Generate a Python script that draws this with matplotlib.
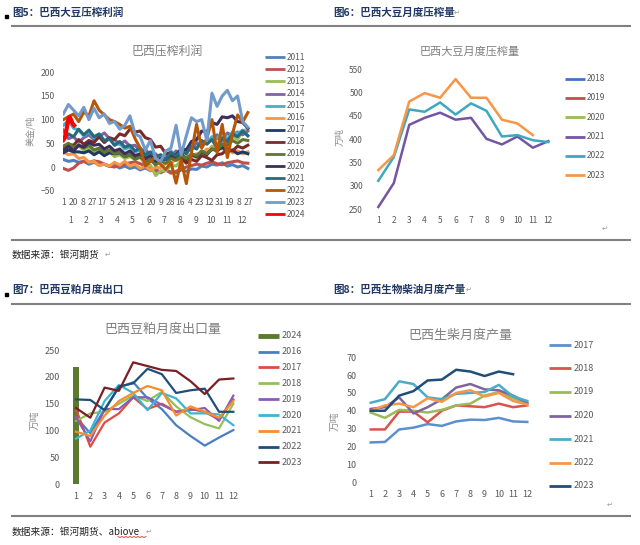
import numpy as np
import matplotlib.pyplot as plt
from matplotlib.lines import Line2D
from matplotlib.patches import Rectangle

plt.rcParams['font.family'] = ['Noto Sans CJK SC', 'DejaVu Sans']

# ---------------- data ----------------
# 图5 巴西压榨利润 (美金/吨), one value every 10 days
days = list(range(0, 361, 10))
p2011 = [16, 12, 14, 10, 12, 6, 10, 4, 6, 1, 4, -2, 2, -3, 0, -6, -2, -8, -5, -11, -7, -10, -12, -6, -9, -4, -5, 2, 0, 6, 4, 9, 2, 5, 0, 3, -3]
p2012 = [-3, -7, -2, 8, 12, 10, 13, 11, 6, 2, 0, 3, 6, 9, 11, 7, 2, -4, -8, -12, -6, -13, -9, -5, 0, 3, 6, 4, 8, 11, 7, 5, 9, 11, 13, 9, 8]
p2013 = [44, 46, 40, 44, 36, 40, 32, 36, 28, 32, 22, 26, 18, 22, 16, 20, 6, 4, -18, -8, -8, 4, 2, 14, 10, 24, 20, 34, 30, 44, 40, 54, 50, 64, 58, 76, 80]
p2014 = [78, 60, 64, 52, 62, 68, 58, 64, 72, 60, 58, 48, 55, 44, 46, 34, 38, 24, 28, 16, 26, 22, 34, 26, 38, 36, 52, 42, 58, 56, 68, 55, 72, 66, 74, 68, 76]
p2015 = [88, 98, 82, 78, 66, 75, 62, 64, 52, 60, 46, 50, 38, 42, 32, 36, 22, 26, 12, 24, 20, 34, 24, 38, 28, 44, 40, 54, 50, 64, 60, 74, 58, 74, 70, 78, 66]
p2016 = [32, 26, 28, 18, 20, 10, 12, 3, 6, 2, 10, 4, 12, 2, 6, -3, 2, -7, 0, -2, 8, 6, 18, 10, 24, 20, 28, 26, 38, 36, 48, 38, 42, 30, 34, 28, 32]
p2017 = [30, 36, 32, 32, 30, 34, 26, 32, 24, 30, 28, 30, 22, 26, 18, 22, 12, 16, 8, 18, 16, 22, 18, 28, 16, 26, 22, 32, 26, 38, 34, 42, 32, 36, 28, 32, 28]
p2018 = [38, 48, 46, 58, 48, 56, 52, 64, 52, 62, 58, 70, 66, 80, 74, 76, 62, 58, 42, 44, 28, 30, 16, 20, 8, 16, 12, 24, 20, 14, 26, 28, 38, 34, 44, 40, 46]
p2019 = [44, 50, 42, 46, 40, 46, 36, 40, 32, 36, 28, 32, 22, 26, 16, 22, 12, 16, 4, 12, 8, 18, 14, 24, 18, 28, 24, 34, 28, 38, 36, 48, 46, 56, 50, 58, 56]
p2020 = [32, 44, 34, 46, 42, 52, 46, 48, 38, 44, 34, 38, 28, 34, 24, 28, 18, 24, 14, 18, 16, 28, 26, 38, 36, 54, 58, 76, 74, 94, 90, 106, 104, 108, 96, 94, 82]
p2021 = [58, 70, 64, 80, 68, 78, 64, 70, 56, 60, 46, 54, 42, 46, 34, 40, 26, 32, 22, 26, 16, 30, 24, 34, 28, 44, 38, 56, 48, 58, 40, 62, 54, 70, 64, 76, 66]
p2022 = [100, 106, 112, 96, 116, 108, 140, 120, 110, 100, 96, 90, 82, 86, 60, 40, 2, 12, 22, 5, -5, 10, -34, 15, -35, 30, 90, 40, 60, 100, 30, 90, 20, 70, 110, 95, 115]
p2023 = [112, 132, 120, 108, 126, 100, 124, 104, 112, 92, 96, 80, 88, 108, 70, 64, 36, 56, 18, 12, 34, 40, 88, 26, 66, 104, 96, 100, 56, 156, 128, 150, 162, 140, 150, 96, 84]
days_2024 = [0, 3, 6, 9, 12, 15, 18, 21]
p2024 = [57, 62, 78, 96, 106, 100, 92, 88]
profit_years = ['2011', '2012', '2013', '2014', '2015', '2016', '2017', '2018', '2019', '2020', '2021', '2022', '2023', '2024']
profit_colors = ['#4F81BD', '#C0504D', '#9BBB59', '#8064A2', '#4BACC6', '#F79646', '#1F3A5F',
                 '#772C2A', '#5F7530', '#3D2F5B', '#276A7C', '#B65708', '#729ACA', '#FF0000']
day_ticks = list(range(0, 362, 19))
day_labels = ['1', '20', '8', '27', '17', '5', '24', '13', '1', '20', '9', '28', '16', '4', '23', '12', '31', '19', '8', '27']
month_mid = [15, 45, 74, 105, 135, 166, 196, 227, 258, 288, 319, 349]

# 图6 巴西大豆月度压榨量 (万吨)
months = list(range(1, 13))
crush_years = ['2018', '2019', '2020', '2021', '2022', '2023']
crush_colors = ['#4472C4', '#C0504D', '#9BBB59', '#7455A3', '#3FA8C0', '#F79646']
cr2021 = [255, 306, 431, 446, 457, 442, 446, 401, 389, 406, 382, 396]
cr2022 = [311, 362, 464, 459, 479, 453, 477, 461, 406, 409, 398, 394]
cr2023 = [334, 366, 481, 499, 489, 529, 489, 489, 442, 434, 409]

# 图7 巴西豆粕月度出口量 (万吨)
meal_years = ['2024', '2016', '2017', '2018', '2019', '2020', '2021', '2022', '2023']
meal_colors = ['#5B7A2E', '#4A7EC2', '#E04B43', '#93C05A', '#8A5DB5', '#3DB4D4', '#F88C2E', '#1F4E79', '#7A1F22']
ex2024 = [219]
ex2016 = [125, 95, 140, 180, 190, 160, 140, 110, 90, 72, 87, 101]
ex2017 = [140, 70, 115, 132, 162, 140, 150, 135, 140, 135, 120, 158]
ex2018 = [118, 132, 135, 150, 165, 155, 172, 145, 125, 112, 104, 150]
ex2019 = [125, 80, 140, 140, 162, 162, 148, 135, 138, 142, 118, 165]
ex2020 = [85, 100, 155, 185, 170, 138, 170, 160, 132, 132, 130, 110]
ex2021 = [98, 90, 128, 155, 170, 183, 175, 128, 145, 135, 124, 155]
ex2022 = [158, 157, 138, 182, 188, 215, 205, 170, 175, 178, 135, 135]
ex2023 = [142, 124, 180, 174, 227, 220, 213, 211, 192, 168, 195, 197]

# 图8 巴西生柴月度产量 (万吨)
bio_years = ['2017', '2018', '2019', '2020', '2021', '2022', '2023']
bio_colors = ['#5B8FD0', '#D9534F', '#9BBB59', '#8064A2', '#4BACC6', '#F79646', '#1F4E79']
bd2017 = [22.2, 22.5, 29.5, 30.5, 32.5, 31.5, 34, 35, 34.8, 36, 34, 33.7]
bd2018 = [29.5, 29.5, 39.5, 39.5, 33.5, 40, 43, 42.5, 42, 44, 42, 43]
bd2019 = [39, 36, 40.5, 40, 39, 40.5, 43, 44, 48.5, 50.5, 47, 44]
bd2020 = [41, 42, 47.5, 38.5, 42, 46.5, 53, 55, 52, 51.5, 48.5, 44.5]
bd2021 = [44.5, 46.5, 56.5, 55, 47.5, 46.5, 49.5, 50, 50.5, 54.5, 48, 45.5]
bd2022 = [40, 43, 44, 42, 47, 45, 50, 51.5, 48, 50, 45.5, 43.5]
bd2023 = [40, 40, 48.5, 51, 57, 57.5, 63, 62, 59.5, 62, 60.5]

# ---------------- layout helpers (pixel coords) ----------------
W, H = 640, 545
fig = plt.figure(figsize=(6.4, 5.45), dpi=100)
fig.patch.set_facecolor('white')

def fx(x):
    return x / W

def fy(y):
    return 1 - y / H

def box(x0, y0, x1, y1):
    return [fx(x0), fy(y1), (x1 - x0) / W, (y1 - y0) / H]

GRAY = '#595959'
NAVY = '#1F3864'

def clean(ax, fs, ypad, xpad):
    for s in ax.spines.values():
        s.set_visible(False)
    ax.tick_params(length=0, labelsize=fs, colors=GRAY)
    ax.tick_params(axis='y', pad=ypad)
    ax.tick_params(axis='x', pad=xpad)
    ax.patch.set_alpha(0)

def legend(x0, x1, xt, ys, colors, labels, fs, lw=2.0):
    for y, c, l in zip(ys, colors, labels):
        fig.add_artist(Line2D([fx(x0), fx(x1)], [fy(y), fy(y)], color=c, lw=lw,
                              solid_capstyle='butt', transform=fig.transFigure))
        fig.text(fx(xt), fy(y), l, fontsize=fs, color=GRAY, va='center', ha='left')

def hrule(x0, x1, y):
    fig.add_artist(Line2D([fx(x0), fx(x1)], [fy(y), fy(y)], color='#808080', lw=1.5,
                          transform=fig.transFigure))

def ret(x, y, fs=5):
    fig.text(fx(x), fy(y), '↵', fontsize=fs, color='#9a9a9a', va='center', ha='left',
             family=['DejaVu Sans'])

# headers and rules
fig.add_artist(Rectangle((fx(4.5), fy(18)), 3 / W, 3 / H, color='black', transform=fig.transFigure))
fig.add_artist(Rectangle((fx(4.5), fy(296)), 3 / W, 3 / H, color='black', transform=fig.transFigure))
fig.text(fx(12), fy(12.5), '图5：巴西大豆压榨利润', fontsize=7.6, fontweight='bold', color=NAVY, va='center')
fig.text(fx(333), fy(12.5), '图6：巴西大豆月度压榨量', fontsize=7.6, fontweight='bold', color=NAVY, va='center')
ret(454, 13)
fig.text(fx(12), fy(290), '图7：巴西豆粕月度出口', fontsize=7.6, fontweight='bold', color=NAVY, va='center')
fig.text(fx(333), fy(290), '图8：巴西生物柴油月度产量', fontsize=7.6, fontweight='bold', color=NAVY, va='center')
ret(466, 290)
hrule(12, 630, 26)
hrule(12, 630, 239.5)
hrule(12, 630, 304)
hrule(12, 630, 515.5)
fig.text(fx(12), fy(255), '数据来源：银河期货', fontsize=7, color='#222222', va='center')
ret(105, 255)
fig.text(fx(12), fy(531.5), '数据来源：银河期货、abiove', fontsize=7, color='#222222', va='center')
ret(146, 531.5)
wx = np.linspace(118, 146, 15)
wy = 536.5 + np.tile([0, 1], 8)[:15]
fig.add_artist(Line2D(fx(wx), fy(wy), color='#E03030', lw=0.6, transform=fig.transFigure))
ret(602, 229)
ret(607, 505)

# ---------------- 图5 ----------------
ax1 = fig.add_axes(box(63.3, 72.3, 250.4, 190.7))
series1 = [p2011, p2012, p2013, p2014, p2015, p2016, p2017, p2018, p2019, p2020, p2021, p2022, p2023]
for vals, c in zip(series1, profit_colors[:-1]):
    ax1.plot(days, vals, color=c, lw=2.2)
ax1.plot(days_2024, p2024, color=profit_colors[-1], lw=3.0)
ax1.set_xlim(0, 365)
ax1.set_ylim(-50, 200)
ax1.set_yticks([-50, 0, 50, 100, 150, 200])
ax1.set_xticks(day_ticks)
ax1.set_xticklabels(day_labels)
clean(ax1, 6.2, 6, 5)
for m, d in zip(months, month_mid):
    ax1.text(d, -0.253, str(m), transform=ax1.get_xaxis_transform(), ha='center', va='center',
             fontsize=6.2, color=GRAY)
fig.text(fx(167), fy(51), '巴西压榨利润', fontsize=8.6, color='#7f7f7f', ha='center', va='center')
fig.text(fx(30), fy(131), '美金/吨', fontsize=6.5, color='#8c8c8c', rotation=90, ha='center', va='center')
legend(265, 285, 287, [57.3 + 12.08 * i for i in range(14)], profit_colors, profit_years, 6.0)

# ---------------- 图6 ----------------
ax2 = fig.add_axes(box(370.6, 69.3, 556.0, 209.3))
ax2.plot(months, cr2021, color=crush_colors[3], lw=1.8)
ax2.plot(months, cr2022, color=crush_colors[4], lw=1.8)
ax2.plot(months[:11], cr2023, color=crush_colors[5], lw=1.8)
ax2.set_xlim(0.5, 12.5)
ax2.set_ylim(250, 550)
ax2.set_yticks(range(250, 551, 50))
ax2.set_xticks(months)
clean(ax2, 6.0, 5.5, 4.5)
fig.text(fx(470), fy(51), '巴西大豆月度压榨量', fontsize=8.0, color='#7f7f7f', ha='center', va='center')
fig.text(fx(340), fy(137), '万吨', fontsize=6.5, color='#8c8c8c', rotation=90, ha='center', va='center')
legend(565, 585, 587, [78.7, 98.0, 117.3, 136.7, 156.0, 175.3], crush_colors, crush_years, 6.0)

# ---------------- 图7 ----------------
ax3 = fig.add_axes(box(68.85, 350.0, 240.5, 484.3))
ax3.bar([1], ex2024, width=0.4, color=meal_colors[0])
series3 = [ex2016, ex2017, ex2018, ex2019, ex2020, ex2021, ex2022, ex2023]
for vals, c in zip(series3, meal_colors[1:]):
    ax3.plot(months, vals, color=c, lw=1.6)
ax3.set_xlim(0.5, 12.5)
ax3.set_ylim(0, 250)
ax3.set_yticks(range(0, 251, 50))
ax3.set_xticks(months)
clean(ax3, 6.5, 6.5, 5.5)
fig.text(fx(163), fy(329.5), '巴西豆粕月度出口量', fontsize=9.4, color='#7f7f7f', ha='center', va='center')
fig.text(fx(35), fy(420), '万吨', fontsize=7, color='#8c8c8c', rotation=90, ha='center', va='center')
ys3 = [336.0, 351.7, 367.3, 383.3, 399.3, 415.0, 430.7, 446.7, 462.3]
legend(258, 279, 282, ys3[1:], meal_colors[1:], meal_years[1:], 6.5)
fig.add_artist(Line2D([fx(258), fx(279)], [fy(ys3[0]), fy(ys3[0])], color=meal_colors[0], lw=3.5,
                      solid_capstyle='butt', transform=fig.transFigure))
fig.text(fx(282), fy(ys3[0]), meal_years[0], fontsize=6.5, color=GRAY, va='center')

# ---------------- 图8 ----------------
ax4 = fig.add_axes(box(363.6, 357.3, 534.4, 482.0))
series4 = [bd2017, bd2018, bd2019, bd2020, bd2021, bd2022]
for vals, c in zip(series4, bio_colors[:-1]):
    ax4.plot(months, vals, color=c, lw=1.8)
ax4.plot(months[:11], bd2023, color=bio_colors[-1], lw=1.8)
ax4.set_xlim(0.5, 12.5)
ax4.set_ylim(0, 70)
ax4.set_yticks(range(0, 71, 10))
ax4.set_xticks(months)
clean(ax4, 6.5, 5, 6)
fig.text(fx(460), fy(335.5), '巴西生柴月度产量', fontsize=9.4, color='#7f7f7f', ha='center', va='center')
fig.text(fx(335), fy(421), '万吨', fontsize=7, color='#8c8c8c', rotation=90, ha='center', va='center')
legend(549, 571, 573.5, [345.0, 368.3, 392.0, 415.7, 439.0, 462.7, 486.0], bio_colors, bio_years, 6.5)

fig.savefig('out.png', dpi=100, facecolor='white')
